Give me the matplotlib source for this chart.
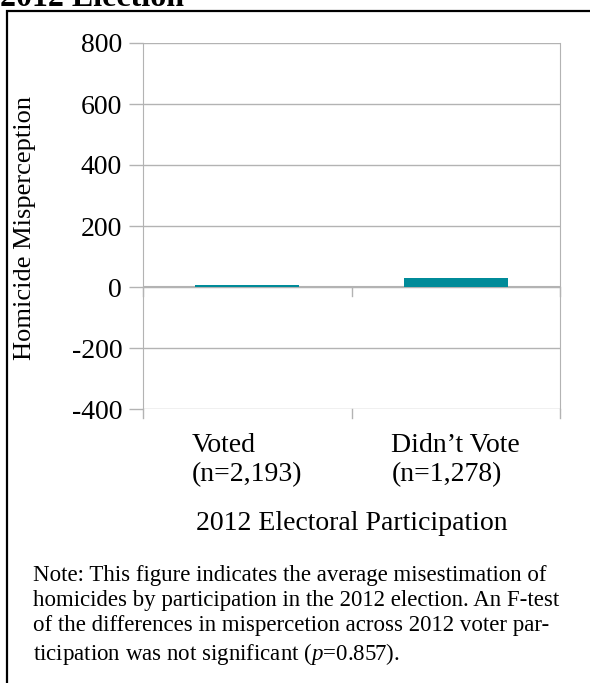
import matplotlib
matplotlib.use("Agg")
import matplotlib.pyplot as plt
from matplotlib.patches import Rectangle

# data
categories = ["Voted\n(n=2,193)", "Didn\u2019t Vote\n(n=1,278)"]
values = [7, 29]
yticks = [-400, -200, 0, 200, 400, 600, 800]

plt.rcParams["font.family"] = ["Liberation Serif", "DejaVu Serif"]
plt.rcParams["mathtext.fontset"] = "custom"
plt.rcParams["mathtext.it"] = "Liberation Serif:italic"
plt.rcParams["mathtext.rm"] = "Liberation Serif"

W, H = 590, 683
fig = plt.figure(figsize=(W / 100, H / 100), dpi=100)

# outer frame (top + left edges visible, rest runs off the image)
fig.patches.append(Rectangle((7 / W, -0.1), 1.2, (H - 11) / H + 0.1,
                             transform=fig.transFigure, fill=False,
                             edgecolor="black", linewidth=1.6))
fig.text(0, 1 - 6 / H, "2012 Election", fontsize=23, fontweight="bold",
         va="baseline", ha="left")

ax = fig.add_axes([143 / W, 1 - 409 / H, (560 - 143) / W, (409 - 43) / H])
grid_c = "#b3b3b3"

x = [0.5, 1.5]
ax.bar(x, values, width=0.5, color="#008b99", zorder=3)
ax.set_xlim(0, 2)
ax.set_ylim(-400, 800)
ax.set_yticks(yticks)
ax.set_yticklabels([str(v) for v in yticks], fontsize=20)
ax.grid(axis="y", color=grid_c, linewidth=1, zorder=0)
ax.tick_params(axis="y", length=10, color=grid_c, width=1, pad=5)

# category labels centred, lines left-aligned
ax.set_xticks([])
for xi, lab in zip(x, categories):
    ax.text(xi, -478, lab, ha="center", va="top", multialignment="left",
            fontsize=20, linespacing=1.25, transform=ax.transData)
for xb in [0, 1, 2]:
    ax.plot([xb, xb], [-400, -430], color=grid_c, lw=1, clip_on=False)
    ax.plot([xb, xb], [0, -30], color=grid_c, lw=1, clip_on=False)
ax.axhline(0, color=grid_c, lw=1.5, zorder=2)

for s in ["top", "bottom"]:
    ax.spines[s].set_visible(False)
for s in ["left", "right"]:
    ax.spines[s].set_color(grid_c)

fig.text(25 / W, 1 - 228 / H, "Homicide Misperception", rotation=90,
         ha="center", va="center", fontsize=19)
fig.text(352 / W, 1 - 523 / H, "2012 Electoral Participation",
         ha="center", va="center", fontsize=20)

note = ("Note: This figure indicates the average misestimation of\n"
        "homicides by participation in the 2012 election. An F-test\n"
        "of the differences in mispercetion across 2012 voter par-\n"
        "ticipation was not significant ($\\mathit{p}$=0.857).")
fig.text(33 / W, 1 - 565 / H, note, ha="left", va="top", fontsize=16.5,
         linespacing=1.25)

fig.savefig("out.png", dpi=100)
